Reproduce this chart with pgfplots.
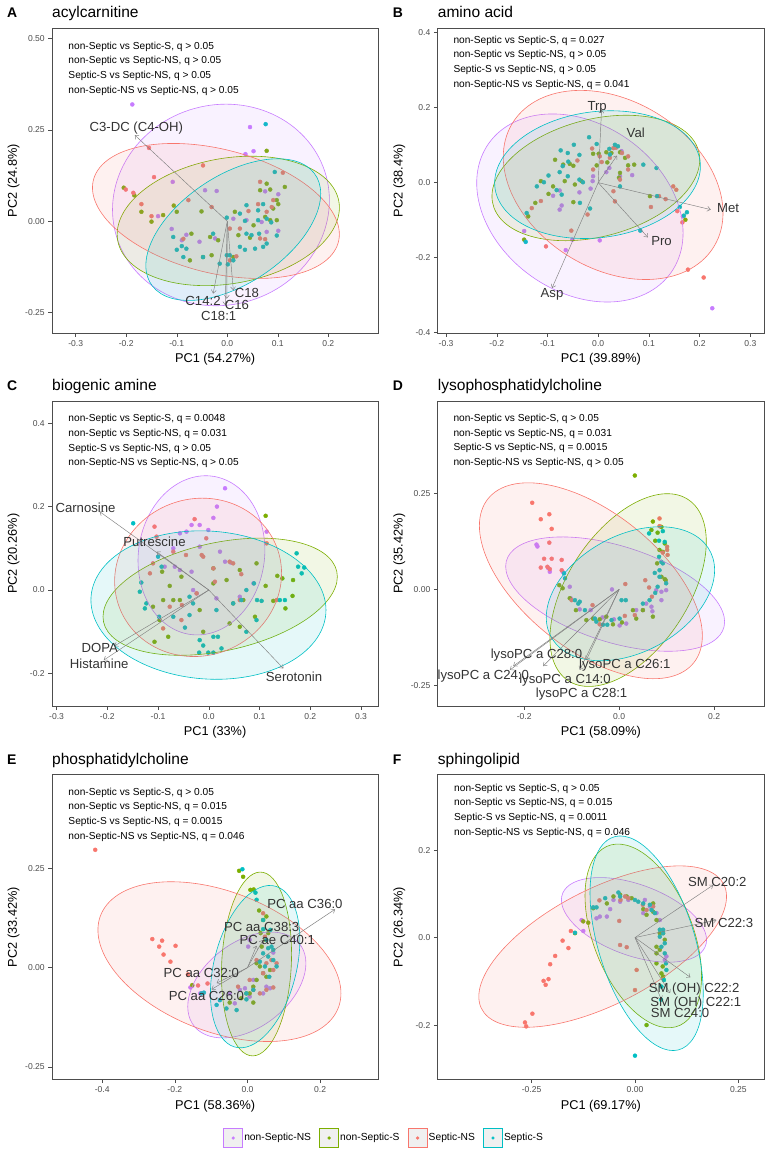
\documentclass[border=0pt]{standalone}
\usepackage{fontspec}
\setmainfont{Liberation Sans}
\usepackage{pgfplots}
\pgfplotsset{compat=1.18}
\usetikzlibrary{arrows.meta}

\definecolor{cP}{HTML}{C77CFF}
\definecolor{cO}{HTML}{7CAE00}
\definecolor{cR}{HTML}{F8766D}
\definecolor{cC}{HTML}{00BFC4}
\definecolor{arrgray}{HTML}{7F7F7F}
\definecolor{labgray}{HTML}{333333}
\definecolor{tickgray}{HTML}{4D4D4D}

\newcommand\tickfont{\fontsize{8.6}{10}\selectfont}
\newcommand\labfont{\fontsize{12.8}{14}\selectfont}
\newcommand\titfont{\fontsize{15.6}{17}\selectfont}
\newcommand\letfont{\fontsize{14}{16}\selectfont\bfseries}
\newcommand\annfont{\fontsize{10.2}{12}\selectfont}
\newcommand\arrfont{\fontsize{13.2}{14}\selectfont}
\newcommand\legfont{\fontsize{10.3}{12}\selectfont}

\pgfplotsset{
  panel/.style={scale only axis, width=326.3bp, height=304.5bp, clip mode=individual,
    axis line style={draw=tickgray, line width=0.7bp},
    tick align=outside, major tick length=3.8bp, tick pos=left,
    every tick/.style={draw=tickgray, line width=0.5bp},
    ticklabel style={font=\tickfont, text=tickgray},
    xlabel style={font=\labfont, at={(axis description cs:0.5,-0.0975)}, anchor=base},
    ylabel style={font=\labfont, at={(axis description cs:-0.1073,0.5)}, anchor=base}},
  pts/.style={only marks, mark=*, color=#1, mark size=2bp, mark options={draw=none, fill=#1}},
  ell/.style={smooth cycle, tension=0.675, draw=#1, line width=0.6bp, fill=#1, fill opacity=0.1, mark=none},
  arr/.style={draw=arrgray, line width=0.45bp, -{Straight Barb[length=3.2bp,width=5bp]}, mark=none},
}
\tikzset{lab/.style={font=\arrfont, text=labgray, inner sep=0pt}}

% #1 xshift, #2 first baseline offset below top, #3-#6 lines
\newcommand{\annot}[6]{%
  \node[anchor=base west, inner sep=0pt, font=\annfont, xshift=#1, yshift={-(#2)}] at (rel axis cs:0,1) {#3};
  \node[anchor=base west, inner sep=0pt, font=\annfont, xshift=#1, yshift={-(#2+14.7bp)}] at (rel axis cs:0,1) {#4};
  \node[anchor=base west, inner sep=0pt, font=\annfont, xshift=#1, yshift={-(#2+29.4bp)}] at (rel axis cs:0,1) {#5};
  \node[anchor=base west, inner sep=0pt, font=\annfont, xshift=#1, yshift={-(#2+44.1bp)}] at (rel axis cs:0,1) {#6};
}
\newcommand{\ptitle}[2]{%
  \node[anchor=base west, inner sep=0pt, font=\titfont, yshift=10.8bp] at (rel axis cs:0,1) {#2};
  \node[anchor=base west, inner sep=0pt, font=\letfont, yshift=10.8bp, xshift=-45bp] at (rel axis cs:0,1) {#1};
}

\begin{document}
\begin{tikzpicture}
\path[use as bounding box] (0,0) rectangle (771bp,-1157bp);

%================ A
\begin{axis}[panel, at={(52bp,-333bp)}, anchor=south west,
  xmin=-0.347, xmax=0.299, ymin=-0.306, ymax=0.528,
  xtick={-0.3,-0.2,-0.1,0,0.1,0.2}, xticklabels={-0.3,-0.2,-0.1,0.0,0.1,0.2},
  ytick={-0.25,0,0.25,0.5}, yticklabels={-0.25,0.00,0.25,0.50},
  xlabel={PC1 (54.27\%)}, ylabel={PC2 (24.8\%)}]
\addplot[pts=cP] coordinates {(-0.188,0.320) (0.045,0.258) (0.036,0.184) (0.052,0.192) (-0.108,0.108) (-0.044,0.085) (-0.021,0.083) (0.075,0.082) (0.101,0.074) (-0.137,0.014) (-0.110,-0.021) (-0.081,-0.037) (-0.055,-0.056) (-0.024,-0.047) (0.078,-0.029) (0.101,-0.026) (0.038,0.003) (0.068,-0.002) (0.012,0.007) (-0.090,-0.052)};
\addplot[pts=cO] coordinates {(-0.205,0.092) (-0.184,0.071) (-0.170,0.026) (-0.150,-0.001) (-0.127,0.017) (-0.106,0.043) (-0.100,0.026) (-0.051,0.027) (0.015,0.026) (0.078,0.103) (0.085,0.087) (0.098,0.058) (0.091,0.035) (0.114,0.094) (0.078,0.193) (0.065,0.085) (0.075,0.012) (0.052,-0.011) (0.045,-0.045) (0.012,-0.098) (-0.074,-0.107) (-0.048,-0.098) (-0.031,-0.093) (-0.034,-0.043) (-0.018,-0.052) (0.085,0.003) (0.098,0.003) (0.101,0.047) (-0.071,-0.034) (0.022,-0.038)};
\addplot[pts=cR] coordinates {(-0.155,0.201) (-0.145,0.121) (-0.201,0.087) (-0.186,0.078) (-0.170,0.047) (-0.150,0.014) (-0.048,0.153) (-0.077,0.058) (-0.031,0.039) (0.005,-0.020) (0.025,-0.020) (0.005,-0.107) (0.061,0.047) (0.065,0.108) (0.088,0.039) (0.091,0.058) (0.065,-0.047) (0.075,-0.049) (-0.087,-0.048) (0.018,-0.096) (0.110,0.133) (0.042,0.028) (0.078,0.026)};
\addplot[pts=cC] coordinates {(0.076,0.266) (0.094,0.135) (0.025,0.021) (0.038,0.044) (0.061,0.030) (0.071,0.047) (-0.001,0.010) (0.035,0.001) (0.061,0.003) (0.078,0.007) (-0.107,-0.043) (-0.100,-0.078) (-0.090,-0.068) (-0.087,-0.098) (-0.081,-0.075) (-0.048,-0.098) (-0.028,-0.034) (-0.001,-0.093) (0.012,-0.107) (0.025,-0.070) (0.035,-0.078) (0.055,-0.075) (0.071,-0.070) (0.078,-0.061) (0.098,-0.039) (0.048,-0.038) (0.038,-0.034) (0.005,-0.093) (0.063,-0.034) (0.087,-0.003) (-0.015,-0.116) (0.001,-0.118)};
\addplot[ell=cP] coordinates {(0.2022,0.0575) (0.1393,0.2488) (-0.0125,0.3205) (-0.1643,0.2307) (-0.2272,0.0319) (-0.1643,-0.1594) (-0.0125,-0.2311) (0.1393,-0.1413)};
\addplot[ell=cO] coordinates {(0.222,0.0375) (0.1576,0.1495) (0.002,0.1745) (-0.1536,0.0979) (-0.218,-0.0355) (-0.1536,-0.1475) (0.002,-0.1725) (0.1576,-0.0959)};
\addplot[ell=cR] coordinates {(0.2219,-0.0356) (0.1503,0.1058) (-0.0225,0.2018) (-0.1953,0.1962) (-0.2669,0.0922) (-0.1953,-0.0492) (-0.0225,-0.1452) (0.1503,-0.1396)};
\addplot[ell=cC] coordinates {(0.185,0.0758) (0.1343,0.1651) (0.0119,0.1443) (-0.1105,0.0256) (-0.1612,-0.1214) (-0.1105,-0.2107) (0.0119,-0.1899) (0.1343,-0.0712)};
\addplot[arr] coordinates {(0,0) (-0.183,0.236)};
\addplot[arr] coordinates {(0,0) (-0.028,-0.198)};
\addplot[arr] coordinates {(0,0) (-0.001,-0.212)};
\addplot[arr] coordinates {(0,0) (0.012,-0.189)};
\addplot[arr] coordinates {(0,0) (-0.004,-0.230)};
\node[lab] at (axis cs:-0.180,0.256) {C3-DC (C4-OH)};
\node[lab] at (axis cs:-0.048,-0.218) {C14:2};
\node[lab] at (axis cs:0.019,-0.228) {C16};
\node[lab] at (axis cs:0.039,-0.197) {C18};
\node[lab] at (axis cs:-0.017,-0.259) {C18:1};
\annot{16.3bp}{20.7bp}{non-Septic vs Septic-S, q > 0.05}{non-Septic vs Septic-NS, q > 0.05}{Septic-S vs Septic-NS, q > 0.05}{non-Septic-NS vs Septic-NS, q > 0.05}
\ptitle{A}{acylcarnitine}
\end{axis}

%================ B
\begin{axis}[panel, at={(437.7bp,-333bp)}, anchor=south west,
  xmin=-0.3165, xmax=0.327, ymin=-0.401, ymax=0.411,
  xtick={-0.3,-0.2,-0.1,0,0.1,0.2,0.3}, xticklabels={-0.3,-0.2,-0.1,0.0,0.1,0.2,0.3},
  ytick={-0.4,-0.2,0,0.2,0.4}, yticklabels={-0.4,-0.2,0.0,0.2,0.4},
  xlabel={PC1 (39.89\%)}, ylabel={PC2 (38.4\%)}]
\addplot[pts=cP] coordinates {(-0.011,0.004) (-0.015,-0.016) (0.016,0.028) (0.043,0.017) (0.067,0.020) (-0.076,-0.021) (-0.089,-0.035) (-0.076,-0.072) (-0.072,-0.061) (-0.037,-0.026) (-0.146,-0.129) (-0.064,-0.180) (-0.051,-0.152) (0.003,-0.154) (0.167,-0.090) (0.225,-0.335) (-0.010,0.017) (0.046,0.084) (0.022,0.039)};
\addplot[pts=cO] coordinates {(-0.069,0.048) (-0.056,0.050) (-0.049,0.045) (-0.085,0.061) (-0.066,0.004) (-0.046,-0.005) (-0.033,0.004) (-0.089,-0.010) (-0.113,0.004) (-0.098,-0.030) (-0.124,-0.054) (-0.138,-0.090) (-0.146,-0.152) (-0.049,-0.052) (-0.010,0.077) (0.001,0.077) (0.016,0.081) (0.026,0.079) (0.043,0.081) (0.053,0.066) (0.059,0.046) (0.071,0.048) (0.041,0.013) (0.043,0.026) (0.102,-0.036) (0.172,-0.099) (0.018,0.054) (-0.003,0.046)};
\addplot[pts=cR] coordinates {(-0.012,0.091) (0.003,0.070) (0.007,0.055) (0.030,0.092) (0.047,0.079) (0.059,0.070) (0.023,0.066) (-0.010,0.035) (0.059,0.035) (0.030,-0.023) (0.033,-0.050) (0.104,-0.065) (0.133,-0.044) (0.148,-0.010) (0.154,-0.019) (0.156,-0.076) (0.166,-0.106) (0.120,-0.036) (-0.021,-0.085) (-0.053,-0.128) (-0.103,-0.170) (0.208,-0.253) (0.177,-0.232) (-0.113,-0.049) (-0.131,-0.068) (0.043,0.008) (-0.041,0.059) (0.035,0.093)};
\addplot[pts=cC] coordinates {(-0.018,0.121) (-0.003,0.103) (-0.048,0.101) (-0.060,0.079) (-0.037,0.074) (-0.074,0.086) (-0.098,0.019) (-0.076,0.028) (-0.070,0.044) (-0.060,0.017) (-0.037,0.008) (-0.030,0.001) (-0.082,-0.020) (-0.072,-0.032) (-0.036,-0.054) (-0.016,-0.069) (-0.107,0.001) (-0.121,-0.010) (-0.141,-0.081) (-0.143,-0.158) (0.022,0.090) (0.033,0.101) (0.039,0.097) (0.023,0.075) (0.043,-0.010) (0.089,0.048) (0.115,0.039) (0.116,-0.036) (0.161,-0.065) (0.169,-0.088) (0.175,-0.079) (0.083,-0.128) (-0.059,0.056)};
\addplot[ell=cP] coordinates {(0.1674,-0.1343) (0.1078,0.0562) (-0.0361,0.1742) (-0.18,0.1505) (-0.2396,-0.0009) (-0.18,-0.1914) (-0.0361,-0.3094) (0.1078,-0.2857)};
\addplot[ell=cO] coordinates {(0.2003,0.0613) (0.1403,0.1601) (-0.0046,0.1724) (-0.1495,0.091) (-0.2095,-0.0365) (-0.1495,-0.1353) (-0.0046,-0.1476) (0.1403,-0.0662)};
\addplot[ell=cR] coordinates {(0.2462,-0.0809) (0.1827,0.1113) (0.0295,0.2347) (-0.1237,0.217) (-0.1872,0.0685) (-0.1237,-0.1237) (0.0295,-0.2471) (0.1827,-0.2294)};
\addplot[ell=cC] coordinates {(0.2016,0.0435) (0.1422,0.1564) (-0.0013,0.1902) (-0.1448,0.125) (-0.2042,-0.0009) (-0.1448,-0.1138) (-0.0013,-0.1476) (0.1422,-0.0824)};
\addplot[arr] coordinates {(0,0) (0.0066,0.195)};
\addplot[arr] coordinates {(0,0) (0.037,0.072)};
\addplot[arr] coordinates {(0,0) (0.222,-0.072)};
\addplot[arr] coordinates {(0,0) (0.098,-0.146)};
\addplot[arr] coordinates {(0,0) (-0.091,-0.281)};
\node[lab] at (axis cs:-0.002,0.202) {Trp};
\node[lab] at (axis cs:0.074,0.132) {Val};
\node[lab] at (axis cs:0.256,-0.068) {Met};
\node[lab] at (axis cs:0.125,-0.155) {Pro};
\node[lab] at (axis cs:-0.091,-0.299) {Asp};
\annot{15.6bp}{14.7bp}{non-Septic vs Septic-S, q = 0.027}{non-Septic vs Septic-NS, q > 0.05}{Septic-S vs Septic-NS, q > 0.05}{non-Septic-NS vs Septic-NS, q = 0.041}
\ptitle{B}{amino acid}
\end{axis}

%================ C
\begin{axis}[panel, at={(52bp,-706bp)}, anchor=south west,
  xmin=-0.309, xmax=0.334, ymin=-0.278, ymax=0.452,
  xtick={-0.3,-0.2,-0.1,0,0.1,0.2,0.3}, xticklabels={-0.3,-0.2,-0.1,0.0,0.1,0.2,0.3},
  ytick={-0.2,0,0.2,0.4}, yticklabels={-0.2,0.0,0.2,0.4},
  xlabel={PC1 (33\%)}, ylabel={PC2 (20.26\%)}]
\addplot[pts=cP] coordinates {(0.032,0.244) (0.016,0.200) (-0.018,0.156) (0.009,0.173) (-0.034,0.156) (-0.044,0.140) (-0.018,0.104) (-0.070,0.100) (-0.087,0.056) (-0.067,0.056) (-0.057,0.048) (-0.034,0.044) (0.022,0.092) (0.032,0.068) (0.043,0.066) (0.015,-0.020) (0.061,-0.016) (-0.031,0.000) (-0.024,-0.008) (0.088,0.016) (0.114,0.140) (-0.001,0.144) (-0.057,0.136)};
\addplot[pts=cO] coordinates {(0.112,0.178) (0.094,0.064) (0.112,0.010) (0.135,0.034) (0.145,0.028) (0.166,0.024) (0.165,-0.014) (0.151,-0.044) (0.127,-0.026) (0.091,-0.064) (0.061,-0.088) (0.041,-0.080) (0.061,0.048) (0.009,0.052) (0.035,0.024) (-0.018,-0.048) (-0.011,-0.100) (-0.054,0.032) (-0.057,-0.024) (-0.070,-0.024) (-0.090,-0.024) (-0.097,-0.072) (-0.080,-0.112) (-0.107,-0.124) (-0.110,-0.040) (-0.092,0.044) (-0.077,0.010) (0.009,0.016) (0.048,-0.032) (0.068,-0.024)};
\addplot[pts=cR] coordinates {(-0.107,0.152) (-0.103,0.128) (-0.028,0.170) (-0.005,0.124) (-0.045,0.084) (-0.070,0.092) (-0.110,0.064) (-0.116,0.040) (-0.011,0.080) (0.009,0.052) (0.012,0.020) (0.041,0.068) (0.048,0.064) (0.064,0.038) (0.114,0.112) (0.134,-0.024) (-0.090,-0.092) (-0.077,-0.040) (-0.054,-0.072) (-0.024,-0.008) (-0.053,-0.036) (-0.014,0.084) (0.061,-0.024)};
\addplot[pts=cC] coordinates {(-0.149,0.160) (-0.100,0.080) (-0.093,0.056) (-0.133,0.018) (-0.136,-0.004) (-0.123,-0.032) (-0.098,-0.064) (-0.070,-0.064) (-0.047,-0.090) (-0.018,-0.120) (-0.011,-0.133) (0.009,-0.112) (0.018,-0.112) (0.025,-0.140) (0.009,-0.150) (-0.001,-0.150) (-0.019,-0.150) (-0.038,-0.060) (-0.031,-0.032) (0.015,-0.048) (0.048,-0.032) (0.064,-0.024) (0.074,0.000) (0.089,0.016) (0.095,-0.024) (0.104,-0.026) (0.094,-0.072) (0.074,-0.100) (0.150,-0.024) (0.173,0.088) (0.176,0.056) (0.183,0.040) (0.188,0.054) (0.140,-0.024) (-0.038,-0.016) (-0.126,-0.044)};
\addplot[ell=cP] coordinates {(0.1105,0.096) (0.0739,0.2269) (-0.0145,0.2736) (-0.1029,0.2088) (-0.1395,0.0704) (-0.1029,-0.0605) (-0.0145,-0.1072) (0.0739,-0.0424)};
\addplot[ell=cO] coordinates {(0.2533,0.032) (0.1857,0.1113) (0.0224,0.116) (-0.1409,0.0434) (-0.2085,-0.064) (-0.1409,-0.1433) (0.0224,-0.148) (0.1857,-0.0754)};
\addplot[ell=cR] coordinates {(0.1434,0.04) (0.0952,0.1713) (-0.0211,0.22) (-0.1374,0.1577) (-0.1856,0.0208) (-0.1374,-0.1105) (-0.0211,-0.1592) (0.0952,-0.0969)};
\addplot[ell=cC] coordinates {(0.2309,-0.048) (0.1631,0.0811) (-0.0007,0.1416) (-0.1645,0.0981) (-0.2323,-0.024) (-0.1645,-0.1531) (-0.0007,-0.2136) (0.1631,-0.1701)};
\addplot[arr] coordinates {(0,0) (-0.215,0.188)};
\addplot[arr] coordinates {(0,0) (-0.103,0.092)};
\addplot[arr] coordinates {(0,0) (-0.186,-0.134)};
\addplot[arr] coordinates {(0,0) (-0.207,-0.168)};
\addplot[arr] coordinates {(0,0) (0.147,-0.188)};
\node[lab] at (axis cs:-0.243,0.196) {Carnosine};
\node[lab] at (axis cs:-0.107,0.116) {Putrescine};
\node[lab] at (axis cs:-0.215,-0.138) {DOPA};
\node[lab] at (axis cs:-0.216,-0.176) {Histamine};
\node[lab] at (axis cs:0.168,-0.208) {Serotonin};
\annot{16.3bp}{20.3bp}{non-Septic vs Septic-S, q = 0.0048}{non-Septic vs Septic-NS, q = 0.031}{Septic-S vs Septic-NS, q > 0.05}{non-Septic-NS vs Septic-NS, q > 0.05}
\ptitle{C}{biogenic amine}
\end{axis}

%================ D
\begin{axis}[panel, at={(437.7bp,-706bp)}, anchor=south west,
  xmin=-0.382, xmax=0.305, ymin=-0.304, ymax=0.49,
  xtick={-0.2,0,0.2}, xticklabels={-0.2,0.0,0.2},
  ytick={-0.25,0,0.25}, yticklabels={-0.25,0.00,0.25},
  xlabel={PC1 (58.09\%)}, ylabel={PC2 (35.42\%)}]
\addplot[pts=cP] coordinates {(-0.174,0.117) (-0.172,0.112) (-0.146,0.046) (-0.149,0.055) (-0.119,0.046) (-0.104,0.007) (-0.102,-0.023) (-0.083,-0.052) (-0.060,-0.054) (-0.035,-0.073) (-0.015,0.000) (0.001,-0.094) (0.015,-0.089) (0.057,-0.037) (0.068,-0.045) (0.070,-0.057) (0.078,-0.002) (0.089,-0.028) (0.089,-0.006) (0.050,-0.054) (0.036,-0.054) (0.099,-0.002) (-0.011,-0.078)};
\addplot[pts=cO] coordinates {(-0.126,0.011) (-0.119,0.003) (-0.104,-0.023) (-0.091,-0.054) (-0.055,-0.076) (-0.041,-0.078) (-0.027,-0.071) (-0.013,-0.091) (0.006,-0.086) (0.029,-0.054) (0.036,-0.076) (0.050,-0.054) (0.071,-0.071) (0.080,0.068) (0.089,0.033) (0.098,0.024) (0.076,0.127) (0.081,0.148) (0.085,0.103) (0.071,0.177) (0.068,0.155) (0.033,0.297) (0.089,0.163) (0.096,0.120) (0.092,0.098) (-0.069,-0.080) (0.096,0.027)};
\addplot[pts=cR] coordinates {(-0.183,0.226) (-0.165,0.183) (-0.147,0.196) (-0.142,0.158) (-0.147,0.122) (-0.158,0.080) (-0.151,0.059) (-0.146,0.053) (-0.142,0.080) (-0.121,0.077) (-0.121,0.050) (0.013,0.014) (0.055,0.024) (0.063,0.005) (0.069,-0.019) (0.085,0.185) (0.085,0.165) (0.101,0.103) (0.102,0.090) (0.101,0.111) (0.092,0.096) (-0.100,-0.028) (-0.056,-0.041) (-0.041,-0.091) (0.012,-0.069) (0.033,-0.067) (-0.165,0.057)};
\addplot[pts=cC] coordinates {(-0.116,0.042) (-0.114,0.029) (-0.093,-0.028) (-0.083,-0.032) (-0.072,-0.054) (-0.048,-0.084) (-0.034,-0.092) (-0.025,-0.092) (-0.016,-0.080) (0.001,-0.076) (0.005,-0.028) (0.050,-0.037) (0.064,-0.028) (0.076,-0.009) (0.081,0.007) (0.085,0.033) (0.085,0.050) (0.089,0.072) (0.092,0.068) (0.084,0.085) (0.063,0.146) (0.092,0.152) (0.096,0.124) (0.084,0.127) (0.075,0.043) (-0.051,-0.076) (-0.086,-0.037) (0.014,-0.028) (0.099,0.016)};
\addplot[ell=cP] coordinates {(0.2221,-0.0844) (0.1546,0.029) (-0.0084,0.1182) (-0.1714,0.1311) (-0.2389,0.06) (-0.1714,-0.0534) (-0.0084,-0.1426) (0.1546,-0.1555)};
\addplot[ell=cO] coordinates {(0.1835,0.1244) (0.1353,0.2412) (0.0189,0.2157) (-0.0975,0.0629) (-0.1457,-0.1278) (-0.0975,-0.2446) (0.0189,-0.2191) (0.1353,-0.0663)};
\addplot[ell=cR] coordinates {(0.1752,-0.1209) (0.1065,0.0705) (-0.0595,0.2339) (-0.2255,0.2735) (-0.2942,0.1661) (-0.2255,-0.0253) (-0.0595,-0.1887) (0.1065,-0.2283)};
\addplot[ell=cC] coordinates {(0.201,0.0504) (0.1491,0.1479) (0.0238,0.1522) (-0.1015,0.0607) (-0.1534,-0.073) (-0.1015,-0.1705) (0.0238,-0.1748) (0.1491,-0.0833)};
\addplot[arr] coordinates {(0,0) (-0.223,-0.200)};
\addplot[arr] coordinates {(0,0) (-0.230,-0.210)};
\addplot[arr] coordinates {(0,0) (-0.160,-0.200)};
\addplot[arr] coordinates {(0,0) (-0.069,-0.184)};
\addplot[arr] coordinates {(0,0) (-0.083,-0.210)};
\node[lab] at (axis cs:-0.174,-0.171) {lysoPC a C28:0};
\node[lab] at (axis cs:-0.286,-0.226) {lysoPC a C24:0};
\node[lab] at (axis cs:-0.114,-0.237) {lysoPC a C14:0};
\node[lab] at (axis cs:0.012,-0.197) {lysoPC a C26:1};
\node[lab] at (axis cs:-0.079,-0.273) {lysoPC a C28:1};
\annot{15.6bp}{20bp}{non-Septic vs Septic-S, q > 0.05}{non-Septic vs Septic-NS, q = 0.031}{Septic-S vs Septic-NS, q = 0.0015}{non-Septic-NS vs Septic-NS, q > 0.05}
\ptitle{D}{lysophosphatidylcholine}
\end{axis}

%================ E
\begin{axis}[panel, at={(52bp,-1079.3bp)}, anchor=south west,
  xmin=-0.538, xmax=0.360, ymin=-0.2815, ymax=0.486,
  xtick={-0.4,-0.2,0,0.2}, xticklabels={-0.4,-0.2,0.0,0.2},
  ytick={-0.25,0,0.25}, yticklabels={-0.25,0.00,0.25},
  xlabel={PC1 (58.36\%)}, ylabel={PC2 (33.42\%)}]
\addplot[pts=cP] coordinates {(-0.157,-0.050) (-0.152,-0.046) (-0.130,-0.065) (-0.021,-0.056) (-0.007,-0.052) (0.006,-0.073) (0.043,-0.065) (0.052,-0.048) (0.062,-0.052) (0.016,-0.031) (0.002,0.053) (0.006,0.070) (0.071,0.038) (-0.049,-0.065) (-0.035,-0.090)};
\addplot[pts=cO] coordinates {(-0.023,0.244) (-0.012,0.229) (0.008,0.196) (0.017,0.197) (0.032,0.144) (0.043,0.120) (0.052,0.129) (0.036,0.087) (0.057,0.087) (0.025,0.011) (0.034,0.003) (0.043,-0.014) (0.052,-0.023) (0.062,-0.006) (0.025,-0.031) (0.016,-0.048) (0.006,-0.065) (-0.003,-0.065) (-0.017,-0.077) (-0.049,-0.088) (0.016,-0.088) (-0.152,-0.044) (0.049,0.070) (0.039,0.053)};
\addplot[pts=cR] coordinates {(-0.419,0.297) (-0.262,0.072) (-0.243,0.053) (-0.235,0.068) (-0.231,0.033) (-0.212,0.015) (-0.198,0.055) (-0.164,-0.017) (-0.110,-0.040) (-0.136,-0.045) (-0.026,-0.048) (0.043,0.137) (0.048,0.078) (0.025,0.019) (0.043,-0.014) (0.052,0.011) (0.066,0.019) (0.071,-0.006) (0.006,-0.031) (0.016,-0.056) (0.034,-0.065) (0.052,-0.056) (0.080,0.011) (0.071,-0.050)};
\addplot[pts=cC] coordinates {(-0.014,0.248) (0.022,0.189) (0.025,0.171) (0.043,0.097) (0.052,0.070) (0.063,0.095) (0.071,0.019) (0.080,0.003) (0.071,0.045) (0.066,0.053) (0.057,0.028) (0.043,0.036) (0.034,0.015) (0.048,0.003) (0.060,-0.023) (0.016,-0.056) (-0.003,-0.065) (-0.030,-0.107) (-0.058,-0.103) (-0.085,-0.094) (-0.120,-0.063) (-0.127,-0.065) (-0.003,-0.080) (-0.076,-0.082) (0.057,0.049) (0.043,0.120)};
\addplot[ell=cP] coordinates {(0.1608,0.0109) (0.1132,0.081) (-0.0018,0.0781) (-0.1168,0.0038) (-0.1644,-0.0983) (-0.1168,-0.1684) (-0.0018,-0.1655) (0.1132,-0.0912)};
\addplot[ell=cO] coordinates {(0.1213,0.0344) (0.093,0.1899) (0.0248,0.2395) (-0.0434,0.1542) (-0.0717,-0.016) (-0.0434,-0.1715) (0.0248,-0.2211) (0.093,-0.1358)};
\addplot[ell=cR] coordinates {(0.2572,-0.0647) (0.1593,0.0894) (-0.0772,0.2) (-0.3137,0.2023) (-0.4116,0.0949) (-0.3137,-0.0592) (-0.0772,-0.1698) (0.1593,-0.1721)};
\addplot[ell=cC] coordinates {(0.1442,0.0697) (0.1081,0.1867) (0.0211,0.1958) (-0.0659,0.0917) (-0.102,-0.0647) (-0.0659,-0.1817) (0.0211,-0.1908) (0.1081,-0.0867)};
\addplot[arr] coordinates {(0,0) (0.241,0.147)};
\addplot[arr] coordinates {(0,0) (0.043,0.070)};
\addplot[arr] coordinates {(0,0) (0.025,0.055)};
\addplot[arr] coordinates {(0,0) (-0.085,-0.039)};
\addplot[arr] coordinates {(0,0) (-0.099,-0.055)};
\node[lab] at (axis cs:0.158,0.161) {PC aa C36:0};
\node[lab] at (axis cs:0.039,0.103) {PC aa C38:3};
\node[lab] at (axis cs:0.082,0.070) {PC ae C40:1};
\node[lab] at (axis cs:-0.127,-0.013) {PC aa C32:0};
\node[lab] at (axis cs:-0.113,-0.071) {PC aa C26:0};
\annot{16.3bp}{20.3bp}{non-Septic vs Septic-S, q > 0.05}{non-Septic vs Septic-NS, q = 0.015}{Septic-S vs Septic-NS, q = 0.0015}{non-Septic-NS vs Septic-NS, q = 0.046}
\ptitle{E}{phosphatidylcholine}
\end{axis}

%================ F
\begin{axis}[panel, at={(437.7bp,-1079.3bp)}, anchor=south west,
  xmin=-0.477, xmax=0.312, ymin=-0.324, ymax=0.372,
  xtick={-0.25,0,0.25}, xticklabels={-0.25,0.00,0.25},
  ytick={-0.2,0,0.2}, yticklabels={-0.2,0.0,0.2},
  xlabel={PC1 (69.17\%)}, ylabel={PC2 (26.34\%)}]
\addplot[pts=cP] coordinates {(-0.129,0.040) (-0.125,0.015) (-0.093,0.044) (-0.085,0.048) (-0.068,0.048) (-0.052,0.086) (-0.036,0.082) (-0.016,0.086) (0.024,0.086) (0.036,0.071) (0.052,0.056) (0.060,0.040) (0.076,-0.043) (0.072,-0.051) (-0.060,0.065) (0.020,0.056)};
\addplot[pts=cO] coordinates {(-0.125,0.037) (-0.113,0.034) (-0.145,0.010) (-0.101,0.067) (-0.068,0.078) (-0.052,0.094) (-0.036,0.098) (-0.020,0.094) (-0.008,0.090) (0.020,0.065) (0.028,0.052) (0.044,0.059) (0.052,0.040) (0.060,0.010) (0.068,0.010) (0.072,-0.005) (0.060,-0.028) (0.052,-0.036) (0.052,-0.059) (0.067,-0.066) (0.068,-0.089) (0.064,-0.082) (0.028,-0.200) (0.044,0.078) (0.052,-0.021)};
\addplot[pts=cR] coordinates {(-0.266,-0.194) (-0.263,-0.203) (-0.248,-0.174) (-0.221,-0.099) (-0.216,-0.108) (-0.209,-0.095) (-0.205,-0.061) (-0.193,-0.042) (-0.175,-0.007) (-0.161,-0.024) (-0.155,0.015) (-0.086,0.085) (-0.038,0.038) (-0.036,-0.017) (-0.020,-0.022) (0.004,-0.074) (0.000,-0.120) (-0.016,0.090) (0.019,0.075) (0.028,0.063) (0.044,0.071) (-0.035,0.086) (-0.024,0.094)};
\addplot[pts=cC] coordinates {(-0.145,0.011) (-0.101,0.069) (-0.093,0.069) (-0.072,0.090) (-0.040,0.103) (-0.036,0.094) (0.000,0.086) (0.008,0.082) (0.020,0.078) (0.036,0.075) (0.040,0.063) (0.048,0.056) (0.060,0.018) (0.068,0.018) (0.072,-0.013) (0.064,-0.021) (0.072,-0.036) (0.075,-0.059) (0.076,-0.074) (0.070,-0.097) (0.064,-0.112) (0.063,-0.142) (0.000,-0.270) (0.060,0.002) (0.068,0.010)};
\addplot[ell=cP] coordinates {(0.1731,-0.0053) (0.1217,0.0684) (-0.0024,0.1257) (-0.1265,0.133) (-0.1779,0.0861) (-0.1265,0.0124) (-0.0024,-0.0449) (0.1217,-0.0522)};
\addplot[ell=cO] coordinates {(0.161,-0.0876) (0.1197,0.0728) (0.0201,0.1928) (-0.0795,0.2021) (-0.1208,0.0952) (-0.0795,-0.0652) (0.0201,-0.1852) (0.1197,-0.1945)};
\addplot[ell=cR] coordinates {(0.2214,0.0937) (0.1337,0.1626) (-0.0781,0.1242) (-0.2899,0.001) (-0.3776,-0.1349) (-0.2899,-0.2038) (-0.0781,-0.1654) (0.1337,-0.0422)};
\addplot[ell=cC] coordinates {(0.1651,-0.1273) (0.125,0.0597) (0.0282,0.2041) (-0.0686,0.2213) (-0.1087,0.1013) (-0.0686,-0.0857) (0.0282,-0.2301) (0.125,-0.2473)};
\addplot[arr] coordinates {(0,0) (0.189,0.120)};
\addplot[arr] coordinates {(0,0) (0.197,0.040)};
\addplot[arr] coordinates {(0,0) (0.134,-0.091)};
\addplot[arr] coordinates {(0,0) (0.085,-0.127)};
\addplot[arr] coordinates {(0,0) (0.064,-0.142)};
\node[lab] at (axis cs:0.199,0.126) {SM C20:2};
\node[lab] at (axis cs:0.215,0.034) {SM C22:3};
\node[lab] at (axis cs:0.143,-0.117) {SM (OH) C22:2};
\node[lab] at (axis cs:0.147,-0.149) {SM (OH) C22:1};
\node[lab] at (axis cs:0.109,-0.173) {SM C24:0};
\annot{16.3bp}{16.3bp}{non-Septic vs Septic-S, q > 0.05}{non-Septic vs Septic-NS, q = 0.015}{Septic-S vs Septic-NS, q = 0.0011}{non-Septic-NS vs Septic-NS, q = 0.046}
\ptitle{F}{sphingolipid}
\end{axis}

%================ legend
\begin{axis}[hide axis, scale only axis, width=10bp, height=10bp,
  at={(383.5bp,-1138bp)}, anchor=center,
  xmin=0, xmax=1, ymin=0, ymax=1,
  legend columns=4,
  legend style={at={(0.5,0.5)}, anchor=center, draw=none, fill=none, font=\legfont,
    inner sep=0pt, column sep=0bp, nodes={inner sep=1bp},
    /tikz/every even column/.append style={column sep=7bp}},
  legend image code/.code={%
    \draw[#1, line width=0.9bp, fill=black!6] (0bp,-9.6bp) rectangle (19.3bp,9.6bp);
    \fill[#1] (9.65bp,0bp) circle (1.4bp);}]
\addlegendimage{cP}\addlegendentry{non-Septic-NS}
\addlegendimage{cO}\addlegendentry{non-Septic-S}
\addlegendimage{cR}\addlegendentry{Septic-NS}
\addlegendimage{cC}\addlegendentry{Septic-S}
\end{axis}
\end{tikzpicture}
\end{document}
